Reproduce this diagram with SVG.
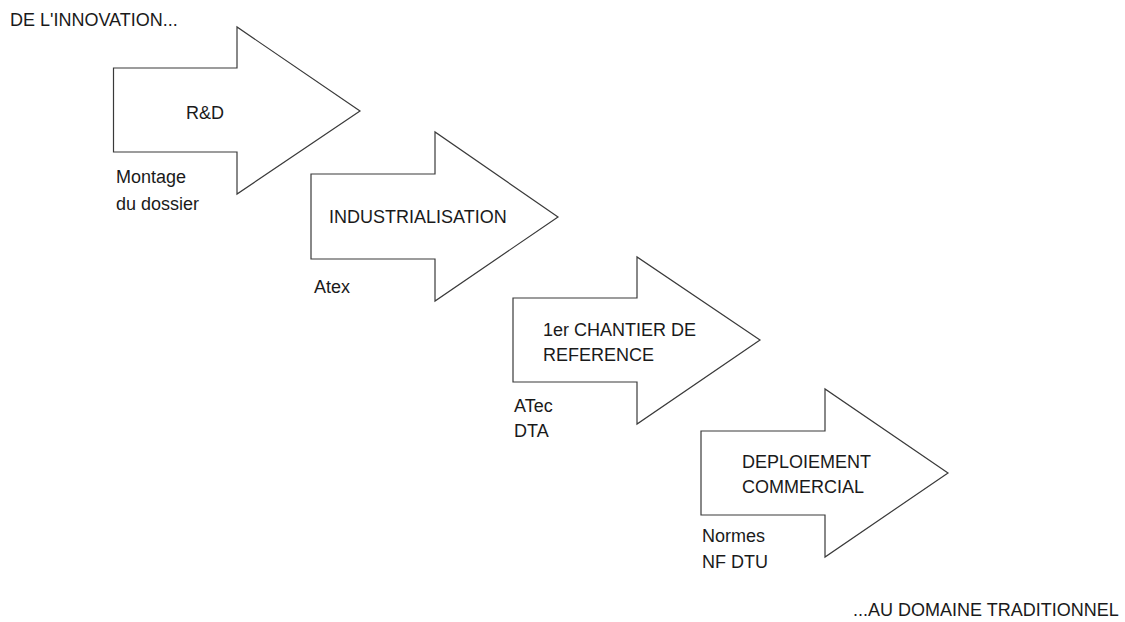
<svg xmlns="http://www.w3.org/2000/svg" width="1125" height="622" viewBox="0 0 1125 622">
<style>
.arrow{fill:#ffffff;stroke:#3a3a3a;stroke-width:1.2;stroke-linejoin:miter}
text{font-family:"Liberation Sans",Arial,sans-serif;font-size:18px;fill:#1a1a1a}
</style>
<rect x="0" y="0" width="1125" height="622" fill="#ffffff"/>
<text x="10" y="26">DE L'INNOVATION...</text>
<g id="node-rd">
<polygon class="arrow" points="113.5,68 237,68 237,27 360,111 237,194 237,152 113.5,152"/>
<text x="186" y="119">R&amp;D</text>
<text x="116" y="183">Montage</text>
<text x="116" y="210">du dossier</text>
</g>
<g id="node-industrialisation">
<polygon class="arrow" points="311,174 435,174 435,132 558,217 435,301 435,259 311,259"/>
<text x="329" y="223">INDUSTRIALISATION</text>
<text x="314" y="293">Atex</text>
</g>
<g id="node-chantier">
<polygon class="arrow" points="513,298 637,298 637,257 760,340 637,424 637,382 513,382"/>
<text x="543" y="336">1er CHANTIER DE</text>
<text x="543" y="361">REFERENCE</text>
<text x="514" y="412">ATec</text>
<text x="514" y="437">DTA</text>
</g>
<g id="node-deploiement">
<polygon class="arrow" points="701,431 825,431 825,389 948,473 825,557 825,515 701,515"/>
<text x="742" y="468">DEPLOIEMENT</text>
<text x="742" y="493">COMMERCIAL</text>
<text x="702" y="542">Normes</text>
<text x="702" y="568">NF DTU</text>
</g>
<g id="connectors"></g>
<text x="853" y="616">...AU DOMAINE TRADITIONNEL</text>
</svg>
